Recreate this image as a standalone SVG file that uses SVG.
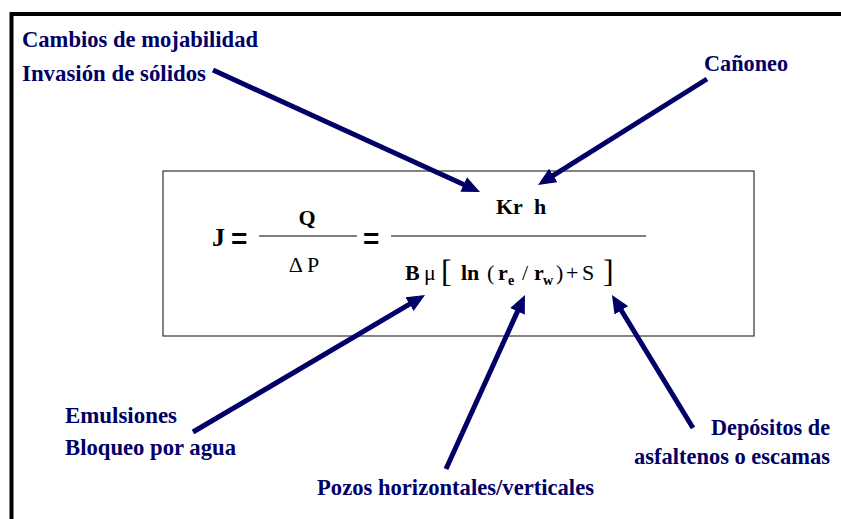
<svg xmlns="http://www.w3.org/2000/svg" width="841" height="519" viewBox="0 0 841 519">
<style>
.lbl{font-family:'Liberation Serif','DejaVu Serif','Times New Roman',serif;font-weight:bold;font-size:23px;fill:#000066}
.f{font-family:'Liberation Serif','DejaVu Serif','Times New Roman',serif;fill:#000}
.b{font-weight:bold}
.eq{font-family:'Liberation Sans',Arial,sans-serif;font-weight:bold;fill:#000}
.arr{stroke:#000066;stroke-width:5;fill:none;marker-end:url(#ah)}
</style>
<defs>
<marker id="ah" markerUnits="userSpaceOnUse" markerWidth="18" markerHeight="16" viewBox="0 0 18 16" refX="6" refY="8" orient="auto">
<path d="M0,0 L18,8 L0,16 z" fill="#000066"/>
</marker>
</defs>
<rect width="841" height="519" fill="#fff"/>
<path d="M11.5,521 V14 H843" fill="none" stroke="#000" stroke-width="4"/>
<g id="formula">
<rect x="163" y="171" width="591" height="165" fill="none" stroke="#333" stroke-width="1.2"/>
<text class="f b" x="212" y="246" style="font-size:26px">J</text>
<text class="eq" x="231" y="248" style="font-size:28px">=</text>
<line x1="259" y1="236" x2="357" y2="236" stroke="#000" stroke-width="1.2"/>
<text class="f b" x="307" y="225" text-anchor="middle" style="font-size:22px">Q</text>
<text class="f" x="304" y="272" text-anchor="middle" style="font-size:22px">Δ P</text>
<text class="eq" x="363" y="248" style="font-size:28px">=</text>
<line x1="391" y1="236" x2="646" y2="236" stroke="#000" stroke-width="1.2"/>
<text class="f b" x="496" y="214" style="font-size:22px">Kr</text>
<text class="f b" x="534" y="214" style="font-size:22px">h</text>
<text class="f b" x="405" y="280" style="font-size:22px">B</text>
<text class="f" x="424" y="280" style="font-size:22px">μ</text>
<text class="f" x="441" y="282" style="font-size:32px">[</text>
<text class="f b" x="461" y="280" style="font-size:22px">ln</text>
<text class="f" x="487" y="280" style="font-size:22px">(</text>
<text class="f b" x="498" y="280" style="font-size:22px">r</text>
<text class="f b" x="508" y="285" style="font-size:14px">e</text>
<text class="f" x="522" y="280" style="font-size:22px">/</text>
<text class="f b" x="534" y="280" style="font-size:22px">r</text>
<text class="f b" x="543" y="285" style="font-size:14px">w</text>
<text class="f" x="556" y="280" style="font-size:22px">)</text>
<text class="f" x="566" y="280" style="font-size:22px">+</text>
<text class="f" x="582" y="280" style="font-size:22px">S</text>
<text class="f" x="603" y="282" style="font-size:32px">]</text>
</g>
<g id="label-cambios">
<text class="lbl" x="22" y="47" textLength="236" lengthAdjust="spacingAndGlyphs">Cambios de mojabilidad</text>
<text class="lbl" x="22" y="81" textLength="184" lengthAdjust="spacingAndGlyphs">Invasión de sólidos</text>
</g>
<g id="label-canoneo">
<text class="lbl" x="704" y="71" textLength="84" lengthAdjust="spacingAndGlyphs">Cañoneo</text>
</g>
<g id="label-emulsiones">
<text class="lbl" x="65" y="423" textLength="112" lengthAdjust="spacingAndGlyphs">Emulsiones</text>
<text class="lbl" x="65" y="455" textLength="171" lengthAdjust="spacingAndGlyphs">Bloqueo por agua</text>
</g>
<g id="label-pozos">
<text class="lbl" x="317" y="495" textLength="277" lengthAdjust="spacingAndGlyphs">Pozos horizontales/verticales</text>
</g>
<g id="label-depositos">
<text class="lbl" x="711" y="435" textLength="119" lengthAdjust="spacingAndGlyphs">Depósitos de</text>
<text class="lbl" x="634" y="464" textLength="196" lengthAdjust="spacingAndGlyphs">asfaltenos o escamas</text>
</g>
<g id="connectors">
<line class="arr" x1="213" y1="70" x2="469.1" y2="187"/>
<line class="arr" x1="707" y1="79" x2="548.2" y2="178.6"/>
<line class="arr" x1="193" y1="432" x2="414.7" y2="301.1"/>
<line class="arr" x1="446" y1="469" x2="520" y2="305.9"/>
<line class="arr" x1="693" y1="428" x2="618.2" y2="305.2"/>
</g>
</svg>
